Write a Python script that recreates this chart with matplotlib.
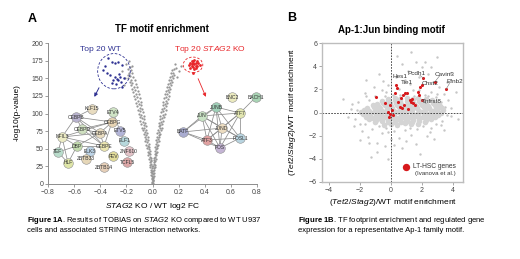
import matplotlib
matplotlib.use('Agg')
import matplotlib.pyplot as plt
from matplotlib.patches import Ellipse

plt.rcParams['font.family'] = ['Liberation Sans', 'DejaVu Sans']
plt.rcParams['mathtext.fontset'] = 'custom'
plt.rcParams['mathtext.rm'] = 'Liberation Sans'
plt.rcParams['mathtext.it'] = 'Liberation Sans:italic'
plt.rcParams['mathtext.bf'] = 'Liberation Sans:bold'

# ---------------- panel A data ----------------
# volcano arms (log2 FC, -log10 p)
left_arm = [(-0.002,1),(-0.004,3),(0.000,5),(-0.003,7),(-0.006,9),(-0.001,11),(-0.008,13),(-0.004,15),
            (-0.010,17),(-0.003,18),(-0.013,20),(-0.007,22),(-0.016,24),(-0.005,26),(-0.018,27),(-0.011,29),
            (-0.022,31),(-0.008,32),(-0.015,34),(-0.027,36),(-0.012,37),(-0.020,39),(-0.031,41),(-0.016,42),
            (-0.025,44),(-0.036,46),(-0.019,47),(-0.030,49),(-0.042,51),(-0.024,52),(-0.035,54),(-0.048,56),
            (-0.029,57),(-0.040,59),(-0.054,61),(-0.033,62),(-0.046,64),(-0.060,66),(-0.038,67),(-0.052,69),
            (-0.066,71),(-0.043,72),(-0.057,74),(-0.073,76),(-0.047,77),(-0.062,79),(-0.080,80),(-0.052,82),
            (-0.068,84),(-0.086,85),(-0.057,87),(-0.074,88),(-0.092,90),(-0.062,92),(-0.080,93),(-0.099,95),
            (-0.068,97),(-0.086,98),(-0.106,100),(-0.073,102),(-0.093,103),(-0.113,105),(-0.079,107),(-0.099,108),
            (-0.120,110),(-0.085,112),(-0.106,113),(-0.128,115),(-0.091,117),(-0.113,118),(-0.136,120),(-0.098,122),
            (-0.121,123),(-0.143,125),(-0.104,127),(-0.129,128),(-0.151,130),(-0.112,132),(-0.137,133),(-0.160,135),
            (-0.119,137),(-0.145,138),(-0.168,140),(-0.128,142),(-0.154,143),(-0.176,145),(-0.137,147),(-0.162,148),
            (-0.184,150),(-0.147,152),(-0.171,153),(-0.190,155),(-0.158,157),(-0.180,158),(-0.168,161),(-0.188,163),
            (-0.176,166),(-0.21,150),(-0.23,160),(-0.20,170),(-0.18,174),(-0.22,140),(-0.16,168)]
right_arm = [(0.002,1),(0.004,4),(0.001,6),(0.006,8),(0.003,10),(0.008,12),(0.005,14),(0.010,16),
             (0.004,18),(0.013,20),(0.008,22),(0.016,24),(0.006,26),(0.019,27),(0.011,29),(0.009,31),
             (0.022,32),(0.015,34),(0.026,36),(0.012,37),(0.020,39),(0.030,41),(0.016,42),(0.025,44),
             (0.034,46),(0.019,47),(0.029,49),(0.038,51),(0.022,52),(0.033,54),(0.043,56),(0.026,57),
             (0.037,59),(0.048,61),(0.030,62),(0.041,64),(0.053,66),(0.034,67),(0.046,69),(0.058,71),
             (0.038,72),(0.051,74),(0.064,76),(0.042,77),(0.056,79),(0.070,80),(0.046,82),(0.061,84),
             (0.076,85),(0.051,87),(0.066,88),(0.082,90),(0.056,92),(0.071,93),(0.088,95),(0.061,97),
             (0.077,98),(0.094,100),(0.066,102),(0.083,103),(0.100,105),(0.072,107),(0.089,108),(0.106,110),
             (0.078,112),(0.095,113),(0.112,115),(0.084,117),(0.101,118),(0.118,120),(0.090,122),(0.107,123),
             (0.124,125),(0.096,127),(0.113,128),(0.130,130),(0.102,132),(0.119,133),(0.136,135),(0.109,137),
             (0.126,138),(0.143,140),(0.116,142),(0.133,143),(0.150,145),(0.123,147),(0.140,148),(0.157,150),
             (0.131,152),(0.148,153),(0.163,155),(0.140,157),(0.158,158),(0.150,161),(0.167,163),
             (0.18,165),(0.20,160),(0.22,168),(0.17,170),(0.19,152)]
top_wt = [(-0.341,178.7),(-0.310,173),(-0.287,171.6),(-0.264,173),(-0.233,168.8),(-0.379,161.7),
          (-0.348,157.4),(-0.302,147.5),(-0.287,151.8),(-0.272,148.9),(-0.264,147.5),(-0.249,151.8),
          (-0.241,144.7),(-0.310,143.3),(-0.233,137.6),(-0.325,154.6),(-0.364,167.4),(-0.279,141.8),
          (-0.256,156),(-0.218,150.4)]
top_ko = [(0.29,172),(0.30,168),(0.31,174),(0.32,170),(0.33,171),(0.34,168),(0.31,166),(0.32,176),
          (0.30,170),(0.33,165),(0.35,172),(0.28,169),(0.32,163),(0.31,171),(0.34,174),(0.30,175),
          (0.33,168),(0.29,165),(0.36,169),(0.31,158)]

# STRING networks (node positions in panel A data units)
wt_nodes = {'KLF15': (-0.463,106.4,'#e8dcc0'), 'ETV4': (-0.302,102.1,'#cfe3c5'),
            'CEBPB': (-0.586,95.0,'#b9b3cf'), 'CEBPG': (-0.310,87.9,'#e6d3b3'),
            'CEBPD': (-0.540,78.0,'#cfe0c0'), 'CEBPA': (-0.402,72.3,'#e9dcc0'),
            'ETV5': (-0.249,75.2,'#b3b5d8'), 'NFIL3': (-0.693,66.7,'#ecebc4'),
            'CEBPE': (-0.371,53.9,'#ece6b0'), 'ELF1': (-0.218,61.0,'#b7d8dc'),
            'DBP': (-0.578,53.9,'#c3dcae'), 'TEF': (-0.723,45.4,'#b9dccb'),
            'ELK3': (-0.478,46.8,'#bcd3e6'), 'ZNF610': (-0.180,46.8,'#e4c3c8'),
            'ZBTB33': (-0.509,35.5,'#e6d7b8'), 'FEV': (-0.302,39.7,'#e2dc9a'),
            'TCFL5': (-0.195,31.2,'#dba6a6'), 'HLF': (-0.647,29.8,'#dfe6a8'),
            'ZBTB14': (-0.371,24.1,'#e6cfb8')}
wt_edges = [('KLF15','CEBPB'),('CEBPB','CEBPG'),('CEBPB','CEBPD'),('CEBPB','CEBPA'),('CEBPB','NFIL3'),
            ('CEBPD','CEBPA'),('CEBPA','CEBPE'),('CEBPG','CEBPA'),('CEBPE','CEBPD'),('NFIL3','DBP'),
            ('NFIL3','TEF'),('NFIL3','HLF'),('DBP','HLF'),('DBP','TEF'),('TEF','HLF'),('CEBPE','DBP'),
            ('NFIL3','CEBPA'),('CEBPG','CEBPE'),('CEBPG','CEBPD'),('NFIL3','CEBPE'),('CEBPB','CEBPE'),
            ('ETV4','ETV5'),('ETV5','ELF1'),('CEBPG','NFIL3'),('CEBPA','DBP')]
ko_nodes = {'JUNB': (0.486,109.2,'#9fd0b8'), 'BNC2': (0.609,123.4,'#ecebc0'),
            'BACH1': (0.792,123.4,'#a8d4b4'), 'JUN': (0.379,96.5,'#c8e2c4'),
            'ATF7': (0.670,100.7,'#e2e6b0'), 'JUND': (0.532,79.4,'#ecdcc0'),
            'BATF': (0.234,73.8,'#a9acd0'), 'ATF3': (0.417,62.4,'#e0a0a0'),
            'FOSL1': (0.670,65.2,'#b8d4e0'), 'FOS': (0.517,51.1,'#c4b4d4')}
ko_edges = [('JUNB','JUN'),('JUNB','ATF7'),('JUNB','JUND'),('JUNB','ATF3'),('JUNB','FOS'),
            ('JUNB','FOSL1'),('JUNB','BATF'),('JUN','ATF7'),('JUN','JUND'),('JUN','BATF'),
            ('JUN','ATF3'),('JUN','FOS'),('JUN','FOSL1'),('ATF7','JUND'),('ATF7','FOSL1'),
            ('ATF7','BACH1'),('JUND','ATF3'),('JUND','FOS'),('JUND','FOSL1'),('BATF','ATF3'),
            ('ATF3','FOS'),('FOS','FOSL1'),('BATF','FOS'),('ATF3','FOSL1'),('ATF7','ATF3'),
            ('BATF','JUND'),('ATF7','FOS')]

# ---------------- panel B data ----------------
cloud = [(-0.48,-1.05),(0.03,-0.97),(0.41,-1.08),(0.88,-0.94),(1.32,-1.02),(1.77,-0.99),
         (-1.02,-0.83),(-0.57,-0.76),(-0.18,-0.85),(0.24,-0.79),(0.63,-0.84),(1.05,-0.74),(1.38,-0.82),(1.83,-0.77),(2.19,-0.86),
         (-1.43,-0.58),(-0.97,-0.65),(-0.62,-0.57),(-0.21,-0.63),(0.17,-0.55),(0.58,-0.66),(0.97,-0.59),(1.44,-0.62),(1.79,-0.54),(2.23,-0.64),(2.61,-0.58),
         (-1.63,-0.38),(-1.17,-0.44),(-0.83,-0.36),(-0.37,-0.42),(0.04,-0.35),(0.43,-0.45),(0.79,-0.37),(1.24,-0.43),(1.58,-0.34),(2.04,-0.41),(2.37,-0.36),(2.83,-0.43),
         (-1.78,-0.17),(-1.38,-0.24),(-0.98,-0.16),(-0.63,-0.22),(-0.17,-0.18),(0.22,-0.25),(0.63,-0.15),(0.98,-0.23),(1.42,-0.16),(1.77,-0.21),(2.24,-0.17),(2.58,-0.24),(3.03,-0.18),
         (-1.92,0.03),(-1.47,-0.04),(-1.12,0.05),(-0.68,-0.03),(-0.33,0.04),(0.12,-0.05),(0.47,0.03),(0.93,-0.02),(1.28,0.05),(1.73,-0.04),(2.08,0.04),(2.53,-0.03),(2.87,0.05),(3.24,-0.02),
         (-1.77,0.23),(-1.42,0.16),(-0.97,0.24),(-0.58,0.17),(-0.23,0.25),(0.18,0.16),(0.62,0.24),(1.03,0.18),(1.37,0.23),(1.82,0.15),(2.17,0.24),(2.62,0.17),(2.98,0.22),(3.37,0.18),
         (-1.52,0.38),(-1.07,0.45),(-0.72,0.37),(-0.27,0.44),(0.08,0.36),(0.53,0.45),(0.88,0.38),(1.33,0.43),(1.68,0.35),(2.13,0.44),(2.48,0.37),(2.93,0.43),(3.28,0.39),
         (-1.18,0.63),(-0.83,0.56),(-0.38,0.64),(0.03,0.57),(0.42,0.65),(0.83,0.58),(1.18,0.62),(1.63,0.55),(2.02,0.64),(2.38,0.57),(2.83,0.63),(3.17,0.58),
         (-0.87,0.77),(-0.52,0.84),(-0.07,0.78),(0.33,0.85),(0.68,0.76),(1.13,0.83),(1.48,0.77),(1.93,0.84),(2.27,0.78),(2.72,0.82),(3.04,0.76),
         (-0.58,1.03),(-0.17,0.96),(0.23,1.04),(0.57,0.97),(1.04,1.02),(1.37,0.95),(1.83,1.03),(2.18,0.97),(2.63,1.04),
         (-0.22,1.18),(0.24,1.24),(0.58,1.17),(1.02,1.23),(1.43,1.16),(1.77,1.22),(2.24,1.18)]
sparse = [(-2.6,0.3),(-2.3,-0.6),(-2.1,0.9),(-2.4,-1.2),(-1.9,-1.6),(-1.5,-2.1),(-1.2,-1.4),(-0.9,-2.6),
          (-0.6,-1.8),(-0.3,-1.3),(0.2,-1.6),(0.5,-2.2),(0.9,-1.5),(1.3,-1.9),(1.7,-1.4),(2.1,-1.2),
          (2.5,-1.7),(2.9,-1.0),(3.3,-0.7),(3.6,-0.2),(3.9,0.4),(3.7,1.1),(3.4,1.6),(3.1,2.2),(2.7,2.6),
          (2.4,3.3),(2.0,3.9),(1.6,4.4),(1.1,3.6),(0.7,4.2),(0.3,3.1),(-0.2,2.4),(-0.6,1.9),(-1.0,1.4),
          (-1.4,1.1),(-1.7,1.7),(-1.1,2.2),(0.5,2.0),(1.2,2.5),(1.8,1.9),(2.6,1.8),(2.2,1.5),(0.9,1.6),
          (0.1,1.5),(-0.4,1.4),(1.5,1.4),(2.9,1.3),(3.2,0.9),(-2.0,-2.4),(-0.9,-3.4),(-0.4,-2.9),
          (0.7,-3.1),(1.6,-2.7),(2.8,-2.3),(3.4,-1.5),(-1.3,-3.8),(-0.2,-4.0),(1.9,-3.6),(4.2,1.8),
          (3.8,3.4),(3.0,4.8),(1.3,5.2),(0.4,4.9),(-0.8,3.3),(-1.6,2.8),(-2.8,-0.4),(-3.1,1.2),
          (4.3,-0.6),(2.3,-2.0),(1.0,-2.5),(-1.4,-2.6),(0.0,-2.3),(3.6,2.6),(2.2,4.4),
          (-2.2,0.2),(-2.0,-1.0),(-1.6,1.4),(-0.3,1.8),(0.6,1.5),(1.4,1.9),(2.4,1.4),(3.0,1.6),
          (3.5,0.5),(3.2,-1.1),(2.6,-1.3),(1.2,-1.3),(-0.2,-1.7),(-0.8,-1.2),(-2.5,0.7),(0.9,2.8),
          (1.8,3.1),(-0.5,2.7),(2.6,3.9),(0.2,-2.8),(-1.7,-1.0),(3.9,-0.3)]
lt_hsc = [(-0.97,1.36),(-0.39,0.85),(-0.06,0.65),(-0.17,0.07),(-0.06,-0.13),(0.04,0.22),(-0.11,-0.36),
          (0.11,-0.22),(0.32,2.37),(0.41,2.09),(0.26,1.66),(0.47,0.93),(0.58,0.5),(0.75,1.51),(0.90,1.66),
          (1.01,1.71),(0.69,0.36),(0.84,0.65),(1.23,1.08),(1.33,1.14),(1.27,0.93),(1.4,0.85),(1.55,0.65),
          (1.12,0.28),(1.87,2.23),(1.98,2.37),(2.09,2.95),(1.76,1.8),(1.83,1.51),(2.84,2.66),(3.55,2.0),
          (1.98,1.08),(0.62,1.22)]
gene_labels = ['Hes1', 'Pcdh1', 'Tie1', 'Chst2', 'Cavin3', 'Efnb2', 'Tnfrsf8']
label_x = [0.58, 1.66, 1.05, 2.52, 3.48, 4.13, 2.62]
label_y = [3.08, 3.38, 2.57, 2.52, 3.30, 2.66, 0.93]
gene_points = [(0.32, 2.37), (2.09, 2.95), (0.41, 2.09), (1.98, 2.37), (2.84, 2.66), (3.55, 2.0), (1.98, 1.08)]

fig = plt.figure(figsize=(5.2, 2.59), dpi=100)


def fx(x):
    return x / 520


def fy(y):
    return 1 - y / 259


# ================= panel A =================
axA = fig.add_axes([fx(48), fy(184), 209 / 520, 141 / 259])
gray = '#969696'
for arm in (left_arm, right_arm):
    xs, ys = zip(*arm)
    axA.scatter(xs, ys, s=2.6, color=gray, lw=0, zorder=2)
xs, ys = zip(*top_wt)
axA.scatter(xs, ys, s=3, color='#2e3192', lw=0, zorder=3, clip_on=False)
xs, ys = zip(*top_ko)
axA.scatter(xs, ys, s=4, color='#e8262a', lw=0, zorder=3, clip_on=False)

for nodes, edges in ((wt_nodes, wt_edges), (ko_nodes, ko_edges)):
    for a, b in edges:
        axA.plot([nodes[a][0], nodes[b][0]], [nodes[a][1], nodes[b][1]],
                 color='#8d8d8d', lw=0.55, zorder=4, clip_on=False)
    for name, (x, y, c) in nodes.items():
        axA.scatter(x, y, s=48, color=c, edgecolor='#8f8f8f', lw=0.4, zorder=5, clip_on=False)
        axA.text(x, y, name, fontsize=3.6, color='#333333', ha='center', va='center',
                 zorder=6, clip_on=False)

axA.add_patch(Ellipse((-0.295, 160), 0.25, 50, fill=False, ls=(0, (3, 2)), ec='#2e3192',
                      lw=0.6, zorder=3, clip_on=False))
axA.add_patch(Ellipse((0.31, 169), 0.15, 22, fill=False, ls=(0, (3, 2)), ec='#e8262a',
                      lw=0.6, zorder=3, clip_on=False))
axA.annotate('', xy=(-0.455, 120), xytext=(-0.40, 140),
             arrowprops=dict(arrowstyle='-|>', color='#2e3192', lw=0.7, mutation_scale=5))
axA.annotate('', xy=(0.417, 120), xytext=(0.341, 153),
             arrowprops=dict(arrowstyle='-|>', color='#e8262a', lw=0.6, mutation_scale=5))
axA.text(-0.40, 191, 'Top 20 WT', fontsize=6, color='#2e3192', ha='center', va='center', clip_on=False)
axA.text(0.44, 191, r'Top 20 $\mathit{STAG2}$ KO', fontsize=6, color='#e8262a', ha='center',
         va='center', clip_on=False)

axA.set_xlim(-0.8, 0.8)
axA.set_ylim(0, 200)
axA.set_xticks([-0.8, -0.6, -0.4, -0.2, 0.0, 0.2, 0.4, 0.6, 0.8])
axA.set_yticks(range(0, 201, 25))
axA.set_xticklabels(['\u22120.8', '\u22120.6', '\u22120.4', '\u22120.2', '0.0', '0.2', '0.4', '0.6', '0.8'])
for s in ('top', 'right'):
    axA.spines[s].set_visible(False)
for s in ('left', 'bottom'):
    axA.spines[s].set_color('#8c8c8c')
    axA.spines[s].set_linewidth(0.7)
axA.tick_params(labelsize=5, colors='#8c8c8c', labelcolor='#444444', length=2, width=0.6, pad=1.5)

# ================= panel B =================
xs, ys = zip(*sparse)
axB = fig.add_axes([fx(322), fy(182), 141 / 520, 139 / 259])
axB.scatter(xs, ys, s=3, color='#c6c6c6', lw=0, zorder=1)
xs, ys = zip(*cloud)
axB.scatter(xs, ys, s=16, color='#d4d4d4', lw=0, zorder=1)
axB.axhline(0, color='#333333', lw=0.6, ls=(0, (2, 1.5)), zorder=2)
axB.axvline(0, color='#333333', lw=0.6, ls=(0, (2, 1.5)), zorder=2)
xs, ys = zip(*lt_hsc)
axB.scatter(xs, ys, s=5, color='#d7191c', lw=0, zorder=3)
for name, lx, ly, (px_, py_) in zip(gene_labels, label_x, label_y, gene_points):
    axB.text(lx, ly, name, fontsize=4.6, color='#333333', ha='center', va='center', zorder=4)
    if name in ('Cavin3', 'Efnb2', 'Tnfrsf8', 'Pcdh1'):
        axB.plot([px_, lx - 0.35 if name != 'Pcdh1' else lx + 0.2], [py_, ly - 0.15],
                 color='#777777', lw=0.4, zorder=3)
axB.scatter([0.97], [-4.7], s=28, color='#d7191c', lw=0, zorder=3)
axB.text(1.4, -4.68, 'LT-HSC genes', fontsize=4.8, color='#333333', va='center')
axB.text(4.15, -5.3, '(Ivanova et al.)', fontsize=4.4, color='#333333', va='center', ha='right')

axB.set_xlim(-4.45, 4.65)
axB.set_ylim(-6, 6)
axB.set_xticks([-4, -2, 0, 2, 4])
axB.set_yticks([-6, -4, -2, 0, 2, 4, 6])
axB.set_xticklabels(['\u22124', '\u22122', '0', '2', '4'])
axB.set_yticklabels(['\u22126', '\u22124', '\u22122', '0', '2', '4', '6'])
for s in axB.spines.values():
    s.set_color('#bdbdbd')
    s.set_linewidth(1.0)
axB.tick_params(labelsize=5, colors='#9a9a9a', labelcolor='#444444', length=2, width=0.6, pad=1.5)

# ================= texts =================
fig.text(fx(32), fy(19), 'A', fontsize=9, fontweight='bold', ha='center', va='center')
fig.text(fx(292), fy(18), 'B', fontsize=9, fontweight='bold', ha='center', va='center')
fig.text(fx(162), fy(29), 'TF motif enrichment', fontsize=7, fontweight='bold', ha='center', va='center')
fig.text(fx(391), fy(30), 'Ap-1:Jun binding motif', fontsize=7, fontweight='bold', ha='center', va='center')
fig.text(fx(17), fy(113), '-log10(p-value)', fontsize=6, rotation=90, ha='center', va='center')
fig.text(fx(153), fy(206), r'$\mathit{STAG2}$ KO / WT log2 FC', fontsize=6, ha='center', va='center')
fig.text(fx(293), fy(112), r'($\mathit{Tet2/Stag2}$)/WT motif enrichment', fontsize=6,
         rotation=90, ha='center', va='center')
fig.text(fx(393), fy(203), r'($\mathit{Tet2/Stag2}$)/WT motif enrichment', fontsize=6,
         ha='center', va='center')

fig.text(fx(27), fy(220), r'$\mathbf{Figure\ 1A}$. Results of TOBIAS on $\mathit{STAG2}$ KO compared to WT U937',
         fontsize=5.5, ha='left', va='center')
fig.text(fx(27), fy(230), 'cells and associated STRING interaction networks.', fontsize=5.5,
         ha='left', va='center')
fig.text(fx(298), fy(220), r'$\mathbf{Figure\ 1B}$. TF footprint enrichment and regulated gene',
         fontsize=5.5, ha='left', va='center')
fig.text(fx(298), fy(230), 'expression for a representative Ap-1 family motif.', fontsize=5.5,
         ha='left', va='center')

fig.savefig('out.png', dpi=100, facecolor='white')
